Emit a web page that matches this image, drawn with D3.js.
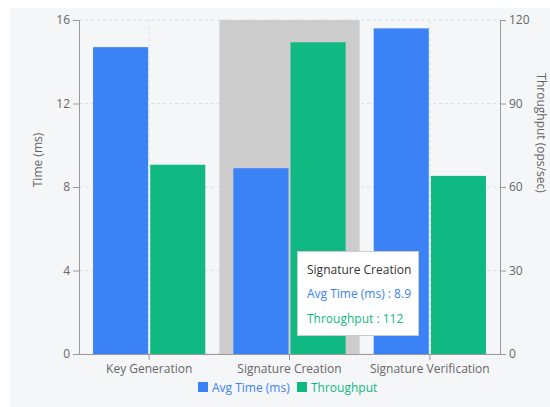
<!DOCTYPE html>
<html>
<head>
<meta charset="utf-8">
<script src="https://cdn.jsdelivr.net/npm/d3@7"></script>
<style>
  html, body { margin: 0; padding: 0; background: #ffffff; }
  svg { display: block; font-family: "Open Sans", "Noto Sans", sans-serif; }
</style>
</head>
<body>
<svg id="chart" width="550" height="407"></svg>
<script>
// Benchmark data for the signature scheme operations
const categories = ["Key Generation", "Signature Creation", "Signature Verification"];
const avgTime = [14.7, 8.9, 15.6];       // ms
const throughput = [68, 112, 64];        // ops/sec
const timeTicks = [0, 4, 8, 12, 16];
const throughputTicks = [0, 30, 60, 90, 120];
const seriesNames = ["Avg Time (ms)", "Throughput"];
const seriesColors = ["#3b82f6", "#10b981"];
const activeIndex = 1;                   // category under the hover cursor

const svg = d3.select("#chart");
const W = 550, H = 407;
const plot = { left: 79, right: 500, top: 20, bottom: 354 };

// panel background
svg.append("rect").attr("x", 10).attr("y", 8).attr("width", W - 10).attr("height", H - 8)
  .attr("fill", "#f5f6f8");

const x = d3.scaleBand().domain(categories).range([plot.left, plot.right]).paddingInner(0).paddingOuter(0);
const yL = d3.scaleLinear().domain([0, 16]).range([plot.bottom, plot.top]);
const yR = d3.scaleLinear().domain([0, 120]).range([plot.bottom, plot.top]);
const bw = x.bandwidth();
const x1 = d3.scaleBand().domain(seriesNames).range([bw * 0.1, bw * 0.9]).paddingInner(0.036);

// grid
const grid = svg.append("g").attr("stroke", "#dcdde0").attr("stroke-dasharray", "3 3").attr("fill", "none");
timeTicks.forEach(t => {
  grid.append("line").attr("x1", plot.left).attr("x2", plot.right).attr("y1", yL(t)).attr("y2", yL(t));
});
categories.forEach(c => {
  const cx = x(c) + bw / 2;
  grid.append("line").attr("x1", cx).attr("x2", cx).attr("y1", plot.top).attr("y2", plot.bottom);
});

// hover cursor
svg.append("rect")
  .attr("x", x(categories[activeIndex])).attr("y", plot.top)
  .attr("width", bw).attr("height", plot.bottom - plot.top)
  .attr("fill", "#cccccc");

// bars
const series = [avgTime, throughput];
const scales = [yL, yR];
series.forEach((vals, si) => {
  svg.append("g").selectAll("rect").data(vals).join("rect")
    .attr("x", (d, i) => x(categories[i]) + x1(seriesNames[si]))
    .attr("y", d => scales[si](d))
    .attr("width", x1.bandwidth())
    .attr("height", d => plot.bottom - scales[si](d))
    .attr("fill", seriesColors[si]);
});

// axes
function styleAxis(g) {
  g.selectAll("path.domain").attr("stroke", "#9a9a9a");
  g.selectAll(".tick line").attr("stroke", "#9a9a9a");
  g.selectAll(".tick text").attr("fill", "#666").attr("font-size", 12)
    .attr("font-family", "'Open Sans', 'Noto Sans', sans-serif");
}
svg.append("g").attr("transform", `translate(${plot.left},0)`)
  .call(d3.axisLeft(yL).tickValues(timeTicks).tickSizeOuter(6).tickPadding(3))
  .call(styleAxis);
svg.append("g").attr("transform", `translate(${plot.right},0)`)
  .call(d3.axisRight(yR).tickValues(throughputTicks).tickSizeOuter(6).tickPadding(3))
  .call(styleAxis);
svg.append("g").attr("transform", `translate(0,${plot.bottom})`)
  .call(d3.axisBottom(x).tickSizeOuter(0).tickPadding(4))
  .call(styleAxis)
  .call(g => g.select("path.domain").attr("d", `M${plot.left},0.5H${plot.right}`));

// axis titles
svg.append("text").attr("transform", "translate(42,160) rotate(-90)")
  .attr("text-anchor", "middle").attr("fill", "#666").attr("font-size", 12)
  .text("Time (ms)");
svg.append("text").attr("transform", "translate(537,133) rotate(90)")
  .attr("text-anchor", "middle").attr("fill", "#666").attr("font-size", 12)
  .text("Throughput (ops/sec)");

// legend
const legend = svg.append("g").attr("font-size", 12);
const legendItems = [{ x: 198 }, { x: 297 }];
seriesNames.forEach((name, i) => {
  const lx = legendItems[i].x;
  legend.append("rect").attr("x", lx).attr("y", 382).attr("width", 10).attr("height", 10)
    .attr("fill", seriesColors[i]);
  legend.append("text").attr("x", lx + 14).attr("y", 391.5).attr("fill", seriesColors[i])
    .text(name);
});

// tooltip
const tip = svg.append("g").attr("transform", "translate(297,251)");
tip.append("rect").attr("x", 0.5).attr("y", 0.5).attr("width", 121).attr("height", 84)
  .attr("fill", "#ffffff").attr("stroke", "#cccccc");
tip.append("text").attr("x", 10).attr("y", 23).attr("fill", "#333").attr("font-size", 12)
  .text(categories[activeIndex]);
tip.append("text").attr("x", 10).attr("y", 47).attr("fill", seriesColors[0]).attr("font-size", 12)
  .text(`${seriesNames[0]} : ${avgTime[activeIndex]}`);
tip.append("text").attr("x", 10).attr("y", 72).attr("fill", seriesColors[1]).attr("font-size", 12)
  .text(`${seriesNames[1]} : ${throughput[activeIndex]}`);
</script>
</body>
</html>
